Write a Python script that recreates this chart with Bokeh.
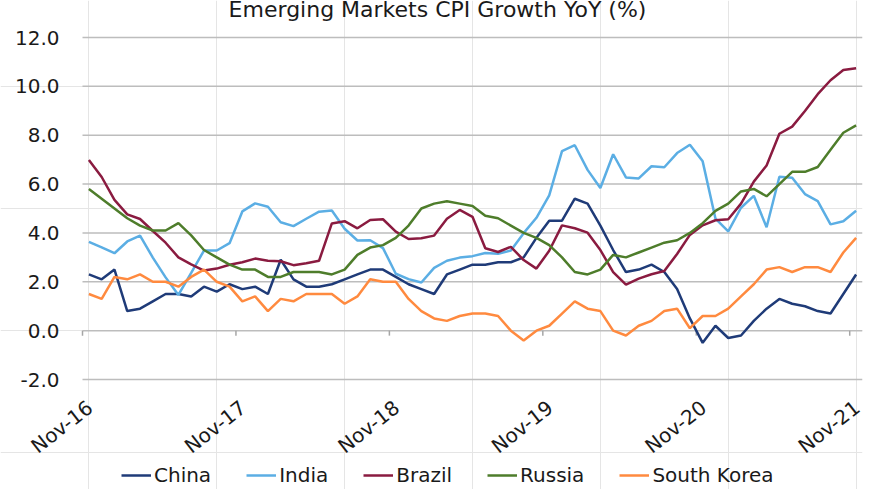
import math
import pandas as pd
from bokeh.plotting import figure
from bokeh.models import Legend, LegendItem, Range1d, ColumnDataSource
from bokeh.core.properties import value
from bokeh.embed import file_html
from bokeh.resources import INLINE

# ---------------- data ----------------
chart_title = "Emerging Markets CPI Growth YoY (%)"
months = pd.date_range("2016-11-01", "2021-11-01", freq="MS").strftime("%b-%y").tolist()
tick_labels = ["Nov-16", "Nov-17", "Nov-18", "Nov-19", "Nov-20", "Nov-21"]
y_ticks = [-2, 0, 2, 4, 6, 8, 10, 12]

china = [2.3, 2.1, 2.5, 0.8, 0.9, 1.2, 1.5, 1.5, 1.4, 1.8, 1.6, 1.9,
         1.7, 1.8, 1.5, 2.9, 2.1, 1.8, 1.8, 1.9, 2.1, 2.3, 2.5, 2.5,
         2.2, 1.9, 1.7, 1.5, 2.3, 2.5, 2.7, 2.7, 2.8, 2.8, 3.0, 3.8,
         4.5, 4.5, 5.4, 5.2, 4.3, 3.3, 2.4, 2.5, 2.7, 2.4, 1.7, 0.5,
         -0.5, 0.2, -0.3, -0.2, 0.4, 0.9, 1.3, 1.1, 1.0, 0.8, 0.7, 1.5, 2.3]
india = [3.63, 3.41, 3.17, 3.65, 3.89, 2.99, 2.18, 1.46, 2.36, 3.28, 3.28, 3.58,
         4.88, 5.21, 5.07, 4.44, 4.28, 4.58, 4.87, 4.92, 4.17, 3.69, 3.70, 3.38,
         2.33, 2.11, 1.97, 2.57, 2.86, 2.99, 3.05, 3.18, 3.15, 3.28, 3.99, 4.62,
         5.54, 7.35, 7.59, 6.58, 5.84, 7.22, 6.27, 6.23, 6.73, 6.69, 7.27, 7.61,
         6.93, 4.59, 4.06, 5.03, 5.52, 4.23, 6.30, 6.26, 5.59, 5.30, 4.35, 4.48, 4.91]
brazil = [6.99, 6.29, 5.35, 4.76, 4.57, 4.08, 3.60, 3.00, 2.71, 2.46, 2.54, 2.70,
          2.80, 2.95, 2.86, 2.84, 2.68, 2.76, 2.86, 4.39, 4.48, 4.19, 4.53, 4.56,
          4.05, 3.75, 3.78, 3.89, 4.58, 4.94, 4.66, 3.37, 3.22, 3.43, 2.89, 2.54,
          3.27, 4.31, 4.19, 4.01, 3.30, 2.40, 1.88, 2.13, 2.31, 2.44, 3.14, 3.92,
          4.31, 4.52, 4.56, 5.20, 6.10, 6.76, 8.06, 8.35, 8.99, 9.68, 10.25, 10.67, 10.74]
russia = [5.8, 5.4, 5.0, 4.6, 4.3, 4.1, 4.1, 4.4, 3.9, 3.3, 3.0, 2.7,
          2.5, 2.5, 2.2, 2.2, 2.4, 2.4, 2.4, 2.3, 2.5, 3.1, 3.4, 3.5,
          3.8, 4.3, 5.0, 5.2, 5.3, 5.2, 5.1, 4.7, 4.6, 4.3, 4.0, 3.8,
          3.5, 3.0, 2.4, 2.3, 2.5, 3.1, 3.0, 3.2, 3.4, 3.6, 3.7, 4.0,
          4.4, 4.9, 5.2, 5.7, 5.8, 5.5, 6.0, 6.5, 6.5, 6.7, 7.4, 8.1, 8.4]
south_korea = [1.5, 1.3, 2.2, 2.1, 2.3, 2.0, 2.0, 1.8, 2.2, 2.5, 2.0, 1.8,
               1.2, 1.4, 0.8, 1.3, 1.2, 1.5, 1.5, 1.5, 1.1, 1.4, 2.1, 2.0,
               2.0, 1.3, 0.8, 0.5, 0.4, 0.6, 0.7, 0.7, 0.6, 0.0, -0.4, 0.0,
               0.2, 0.7, 1.2, 0.9, 0.8, 0.0, -0.2, 0.2, 0.4, 0.8, 0.9, 0.1,
               0.6, 0.6, 0.9, 1.4, 1.9, 2.5, 2.6, 2.4, 2.6, 2.6, 2.4, 3.2, 3.8]

series_names = ["China", "India", "Brazil", "Russia", "South Korea"]
series_values = [china, india, brazil, russia, south_korea]
series_colors = ["#1F3B78", "#5BAEE4", "#8A1B40", "#4E7D2B", "#FF8A3F"]

FONT = "DejaVu Sans"
TEXT = "#1a1a1a"

x = list(range(len(months)))
tick_pos = [months.index(t) - 0.5 for t in tick_labels]

source = ColumnDataSource(dict(x=x, month=months, **{n: v for n, v in zip(series_names, series_values)}))

# layout: the plotting grid is 780 x 342 px; the frame spans the whole canvas, leaving
# 82 px left of the grid (value labels), 37 px above it (title) and 110 px below it
GRID_W, GRID_H = 780, 342
PAD_LEFT, PAD_TOP = 82, 37
FRAME_W, FRAME_H = GRID_W + PAD_LEFT, 489
y_min, y_max = min(y_ticks), max(y_ticks)
px_per_unit = GRID_H / (y_max - y_min)
x_start, x_end = -0.5, len(months) - 0.5
px_per_month = GRID_W / (x_end - x_start)
y_top = y_max + PAD_TOP / px_per_unit

p = figure(frame_width=FRAME_W, frame_height=FRAME_H, output_backend="svg", toolbar_location=None,
           x_range=Range1d(x_start - PAD_LEFT / px_per_month, x_end),
           y_range=Range1d(y_top - FRAME_H / px_per_unit, y_top),
           x_axis_location=None, y_axis_location=None,
           min_border_left=0, min_border_right=7, min_border_top=0, min_border_bottom=0,
           outline_line_color=None)

# title, centred 355 px right of the grid's left edge, 28 px above the top grid line
p.text(x=[x_start + 355 / px_per_month], y=[y_max + 28 / px_per_unit], text=[chart_title],
       text_align="center", text_baseline="middle", text_font=value(FONT),
       text_font_size="22px", text_color=TEXT)

# horizontal value grid and its labels
p.segment(x0=[x_start] * len(y_ticks), x1=[x_end] * len(y_ticks), y0=y_ticks, y1=y_ticks,
          line_color="#BDBDBD", line_width=1.5)
p.text(x=[x_start - 23 / px_per_month] * len(y_ticks), y=y_ticks,
       text=[f"{v:.1f}" for v in y_ticks], text_align="right", text_baseline="middle",
       text_font=value(FONT), text_font_size="20px", text_color=TEXT)

# small tick marks hanging from the zero line (5 px long)
tick_len = 5 / px_per_unit
p.segment(x0=tick_pos, x1=tick_pos, y0=[0] * len(tick_pos), y1=[-tick_len] * len(tick_pos),
          line_color="#A6A6A6", line_width=1.5)

# rotated category labels under the grid (16 px below the lowest grid line)
label_y = y_min - 16 / px_per_unit
p.text(x=tick_pos, y=[label_y] * len(tick_pos), text=tick_labels, angle=math.radians(38),
       text_align="right", text_baseline="top", text_font=value(FONT),
       text_font_size="20px", text_color=TEXT)

items = []
for name, color in zip(series_names, series_colors):
    r = p.line("x", name, source=source, line_color=color, line_width=2.5)
    items.append(LegendItem(label=name, renderers=[r]))

legend = Legend(items=items, orientation="horizontal", location=(PAD_LEFT + 39, 2),
                border_line_color=None, background_fill_alpha=0,
                label_text_font=FONT, label_text_font_size="20px", label_text_color=TEXT,
                glyph_width=30, glyph_height=20, label_height=20, label_standoff=3, spacing=35,
                padding=0, margin=0)
p.add_layout(legend)

open("out.html", "w").write(file_html(p, INLINE))
